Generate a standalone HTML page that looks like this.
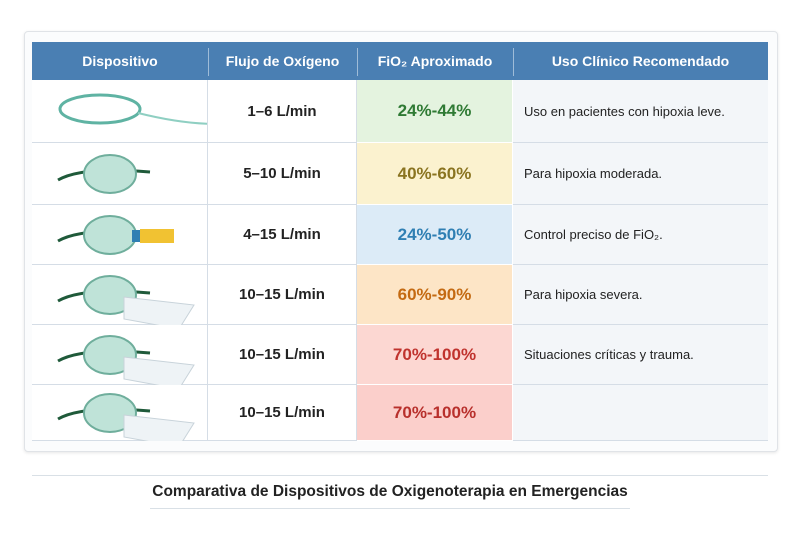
<!DOCTYPE html>
<html><head><meta charset="utf-8"><style>
body{margin:0;width:800px;height:533px;background:#fff;font-family:"Liberation Sans",sans-serif;position:relative;overflow:hidden}
.card{position:absolute;left:24px;top:31px;width:752px;height:419px;border:1px solid #e0e3e7;border-radius:4px;background:#fbfcfd;box-shadow:0 1px 3px rgba(0,0,0,.1)}
.hd{position:absolute;top:42px;height:38px;background:#4a7fb3;color:#fff;font-weight:bold;font-size:14px;line-height:38px;text-align:center}
.sep{position:absolute;top:48px;width:1px;height:28px;background:#9fbcd8}
.c{position:absolute;text-align:center;font-size:15px;font-weight:bold;color:#222;display:flex;align-items:center;justify-content:center;box-sizing:border-box;border-bottom:1px solid #d5dde6;border-right:1px solid #d5dde6}
.u{position:absolute;font-size:13px;color:#222;display:flex;align-items:center;padding-left:11px;box-sizing:border-box;border-bottom:1px solid #d5dde6;background:#f3f6f9}
</style></head><body>
<div class="card"></div>
<div class="hd" style="left:32px;width:736px"></div>
<div class="hd" style="left:32px;width:176px">Dispositivo</div>
<div class="hd" style="left:208px;width:149px">Flujo de Oxígeno</div>
<div class="hd" style="left:357px;width:156px">FiO₂ Aproximado</div>
<div class="hd" style="left:513px;width:255px">Uso Clínico Recomendado</div>
<div class="sep" style="left:208px"></div><div class="sep" style="left:357px"></div><div class="sep" style="left:513px"></div>
<div id="rows"></div>
<script>
var rows=[[80,143,"1–6 L/min","24%-44%","#e4f3df","#2f7a34","Uso en pacientes con hipoxia leve."],
[143,205,"5–10 L/min","40%-60%","#fbf2cf","#8a7420","Para hipoxia moderada."],
[205,265,"4–15 L/min","24%-50%","#dcebf7","#2f7fb3","Control preciso de FiO₂."],
[265,325,"10–15 L/min","60%-90%","#fde5c6","#c46a12","Para hipoxia severa."],
[325,385,"10–15 L/min","70%-100%","#fcd7d2","#c0332e","Situaciones críticas y trauma."],
[385,441,"10–15 L/min","70%-100%","#fbcfcb","#b8302c",""]];
var h="";
rows.forEach(function(r,i){var t=r[0],hh=r[1]-r[0],m=hh/2;
h+='<div class="c" style="left:32px;top:'+t+'px;width:176px;height:'+hh+'px;background:#fff"><svg width="176" height="'+hh+'">'+
(i==0?'<ellipse cx="68" cy="29" rx="40" ry="14" fill="none" stroke="#5fb3a3" stroke-width="3"/><path d="M106 33 Q150 44 185 44" stroke="#8fcfc2" stroke-width="2" fill="none"/>':
'<path d="M26 '+(m+6)+' Q50 '+(m-8)+' 118 '+(m-2)+'" stroke="#1f5a3a" stroke-width="3" fill="none"/><ellipse cx="78" cy="'+(m)+'" rx="26" ry="19" fill="#bfe3d8" stroke="#6fae9c" stroke-width="2"/>'+(i>2?'<path d="M92 '+(m+2)+' l70 8 l-15 24 l-55 -10z" fill="#eef3f6" stroke="#c8d3da"/>':'')+(i==2?'<rect x="108" y="'+(m-6)+'" width="34" height="14" fill="#f1c232"/><rect x="100" y="'+(m-5)+'" width="8" height="12" fill="#2f7fb3"/>':''))+
'</svg></div>';
h+='<div class="c" style="left:208px;top:'+t+'px;width:149px;height:'+hh+'px;background:#fff">'+r[2]+'</div>';
h+='<div class="c" style="left:357px;top:'+t+'px;width:156px;height:'+hh+'px;background:'+r[4]+';color:'+r[5]+';font-size:17px;border-right:1px solid #fff;border-bottom:1px solid #fff">'+r[3]+'</div>';
h+='<div class="u" style="left:513px;top:'+t+'px;width:255px;height:'+hh+'px">'+r[6]+'</div>';});
document.getElementById("rows").innerHTML=h;
</script>
<div style="position:absolute;left:32px;top:475px;width:736px;height:1px;background:#d9e0e6"></div>
<div style="position:absolute;left:0;width:780px;top:483px;text-align:center;font-size:15.5px;font-weight:bold;color:#222">Comparativa de Dispositivos de Oxigenoterapia en Emergencias</div>
<div style="position:absolute;left:150px;top:508px;width:480px;height:1px;background:#d9e0e6"></div>
</body></html>
